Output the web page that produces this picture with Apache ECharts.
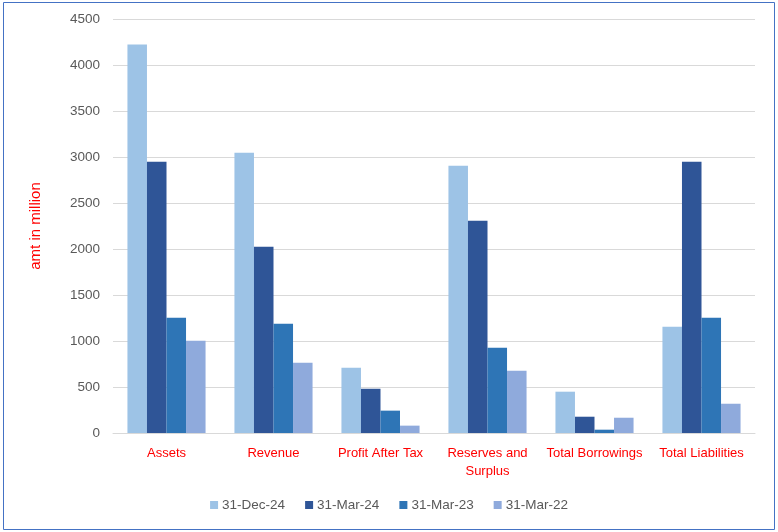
<!DOCTYPE html>
<html>
<head>
<meta charset="utf-8">
<script src="https://cdn.jsdelivr.net/npm/echarts@6/dist/echarts.min.js"></script>
<style>
html,body{margin:0;padding:0;background:#fff;}
#chart{width:778px;height:532px;}
</style>
</head>
<body>
<div id="chart"></div>
<script>
var categories = ['Assets', 'Revenue', 'Profit After Tax', 'Reserves and Surplus', 'Total Borrowings', 'Total Liabilities'];
var seriesNames = ['31-Dec-24', '31-Mar-24', '31-Mar-23', '31-Mar-22'];
var dec24 = [4222, 3047, 710, 2906, 449, 1155];
var mar24 = [2949, 2025, 482, 2308, 177, 2949];
var mar23 = [1253, 1188, 243, 927, 36, 1253];
var mar22 = [1003, 764, 80, 677, 166, 318];
var yTicks = { min: 0, max: 4500, interval: 500 };
var colors = ['#9DC3E6', '#2F5597', '#2E75B6', '#8FAADC'];
var values = [dec24, mar24, mar23, mar22];

var font = '"Liberation Sans", Arial, sans-serif';
var chart = echarts.init(document.getElementById('chart'), null, { renderer: 'canvas' });
chart.setOption({
  animation: false,
  textStyle: { fontFamily: font },
  color: colors,
  graphic: [{
    type: 'rect',
    shape: { x: 3.5, y: 2.5, width: 771, height: 527 },
    style: { fill: 'none', stroke: '#4472C4', lineWidth: 1 },
    silent: true
  }],
  grid: { left: 113, right: 23, top: 19, bottom: 99, containLabel: false },
  legend: {
    data: seriesNames,
    bottom: 15,
    left: 'center',
    itemWidth: 8,
    itemHeight: 8,
    itemGap: 20,
    icon: 'rect',
    textStyle: { color: '#595959', fontSize: 13.5, fontFamily: font, padding: [0, 0, 0, -1] }
  },
  xAxis: {
    type: 'category',
    data: categories,
    axisTick: { show: false },
    axisLine: { lineStyle: { color: '#D9D9D9', width: 1 } },
    axisLabel: {
      color: '#FF0000', fontSize: 13, fontFamily: font, margin: 11, interval: 0,
      lineHeight: 18,
      formatter: function (v) { return v === 'Reserves and Surplus' ? 'Reserves and\nSurplus' : v; }
    }
  },
  yAxis: {
    type: 'value',
    min: yTicks.min, max: yTicks.max, interval: yTicks.interval,
    name: 'amt in million',
    nameLocation: 'middle',
    nameGap: 70,
    nameTextStyle: { color: '#FF0000', fontSize: 15, fontFamily: font },
    axisLine: { show: false },
    axisTick: { show: false },
    axisLabel: { color: '#595959', fontSize: 13.5, fontFamily: font, margin: 13, formatter: function (v) { return String(v); } },
    splitLine: { lineStyle: { color: '#D9D9D9', width: 1 } }
  },
  series: seriesNames.map(function (n, i) {
    return {
      name: n, type: 'bar', data: values[i],
      barGap: '0%', barCategoryGap: '27%',
      itemStyle: { color: colors[i] }
    };
  })
});
</script>
</body>
</html>
